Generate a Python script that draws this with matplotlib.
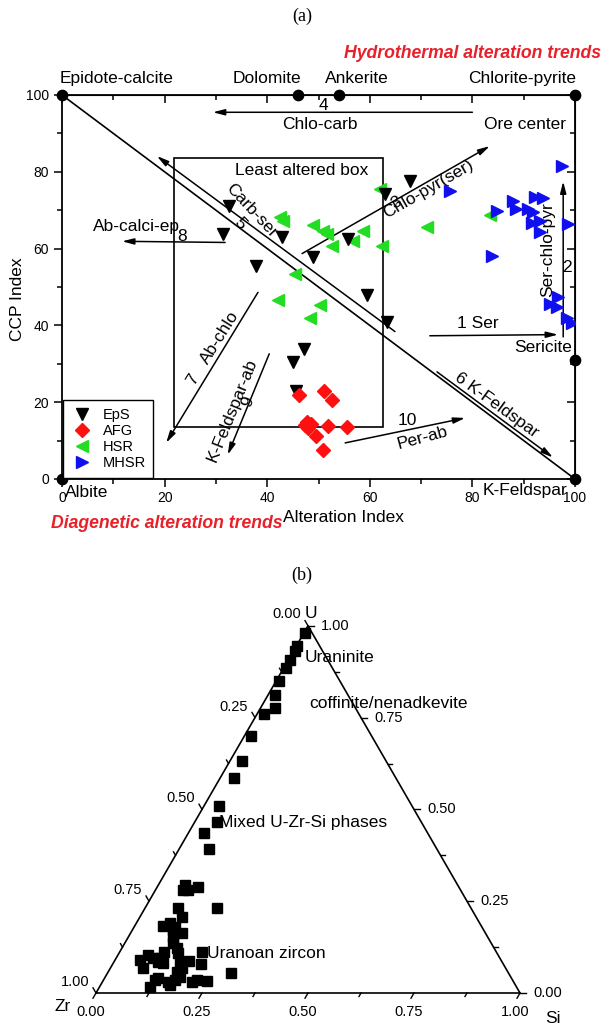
import numpy as np
import matplotlib.pyplot as plt
from matplotlib.lines import Line2D
from matplotlib.patches import Rectangle

plt.rcParams['font.family'] = ['Liberation Sans', 'DejaVu Sans']

# ---- (a) alteration box plot data ----
eps_x = [32.6, 31.4, 42.9, 37.8, 48.9, 55.8, 59.5, 63.0, 67.8, 63.4, 47.2, 45.0, 45.6]
eps_y = [71.0, 63.7, 62.9, 55.4, 57.7, 62.4, 48.0, 74.2, 77.5, 41.0, 33.9, 30.5, 23.0]

afg_x = [46.2, 51.1, 52.6, 47.8, 48.0, 48.6, 47.4, 51.9, 55.6, 49.5, 50.9]
afg_y = [21.9, 23.0, 20.6, 14.9, 13.3, 14.2, 14.0, 13.8, 13.6, 11.2, 7.6]

hsr_x = [42.5, 43.1, 48.9, 50.9, 51.6, 52.6, 56.7, 58.7, 62.4, 62.0, 45.4, 42.1, 50.3, 48.3, 71.2, 83.4]
hsr_y = [68.1, 67.1, 66.1, 64.5, 63.7, 60.6, 61.9, 64.5, 60.6, 75.5, 53.3, 46.7, 45.4, 42.0, 65.5, 68.7]

mhsr_x = [97.5, 75.6, 84.8, 87.9, 88.5, 92.2, 93.8, 90.8, 91.8, 91.6, 93.2, 93.2, 98.6, 83.8,
          95.1, 96.7, 96.5, 98.4, 99.4]
mhsr_y = [81.5, 74.9, 69.7, 72.3, 70.2, 73.4, 73.1, 70.2, 69.5, 66.6, 67.1, 64.2, 66.3, 58.0,
          45.7, 47.5, 44.9, 42.0, 40.7]

# end members on the frame
end_names = ['Epidote-calcite', 'Dolomite', 'Ankerite', 'Chlorite-pyrite', 'Sericite', 'Albite', 'K-Feldspar']
end_x = [0, 46, 54, 100, 100, 0, 100]
end_y = [100, 100, 100, 100, 31, 0, 0]

# ---- (b) U-Zr-Si ternary data (fractions) ----
u_frac = [0.981, 0.945, 0.932, 0.907, 0.885, 0.850, 0.811, 0.776, 0.760, 0.699, 0.631, 0.585, 0.508,
          0.467, 0.437, 0.393, 0.295, 0.281, 0.281, 0.290, 0.232, 0.232, 0.208, 0.183, 0.191, 0.180,
          0.172, 0.164, 0.153, 0.137, 0.123, 0.109, 0.112, 0.112, 0.087, 0.079, 0.085, 0.068, 0.057,
          0.044, 0.036, 0.030, 0.022, 0.030, 0.036, 0.033, 0.055, 0.036, 0.016, 0.041, 0.090, 0.068,
          0.104, 0.096, 0.085, 0.082, 0.096]
si_frac = [0.003, 0.002, 0.003, 0.004, 0.005, 0.007, 0.016, 0.034, 0.016, 0.016, 0.029, 0.033, 0.036,
           0.052, 0.036, 0.070, 0.062, 0.064, 0.076, 0.096, 0.169, 0.077, 0.099, 0.066, 0.079, 0.096,
           0.096, 0.121, 0.105, 0.113, 0.130, 0.139, 0.104, 0.194, 0.176, 0.208, 0.156, 0.169, 0.162,
           0.176, 0.168, 0.155, 0.164, 0.211, 0.220, 0.246, 0.291, 0.121, 0.119, 0.126, 0.059, 0.077,
           0.071, 0.086, 0.104, 0.117, 0.103]
tern_ticks = [0.0, 0.25, 0.5, 0.75, 1.0]

W, H = 604, 1026
fig = plt.figure(figsize=(W / 100, H / 100), dpi=100)

# =================== (a) ===================
ax = fig.add_axes([62 / W, 1 - 479 / H, 513 / W, 384 / H])
ax.set_xlim(0, 100)
ax.set_ylim(0, 100)
for s in ax.spines.values():
    s.set_linewidth(1.3)
ax.set_xticks([0, 20, 40, 60, 80, 100])
ax.set_yticks([0, 20, 40, 60, 80, 100])
ax.set_xticks(np.arange(10, 100, 20), minor=True)
ax.set_yticks(np.arange(10, 100, 20), minor=True)
ax.tick_params(which='major', direction='out', length=6, width=1.1, labelsize=10)
ax.tick_params(which='minor', direction='out', length=3.5, width=1.1)
ax.tick_params(axis='x', pad=3)

top = ax.secondary_xaxis('top')
top.set_xticks([0, 20, 40, 60, 80, 100])
top.set_xticks(np.arange(10, 100, 20), minor=True)
top.tick_params(which='both', direction='in', labeltop=False, width=1.1)
top.tick_params(which='major', length=6)
top.tick_params(which='minor', length=3.5)
right = ax.secondary_yaxis('right')
right.set_yticks([0, 20, 40, 60, 80, 100])
right.set_yticks(np.arange(10, 100, 20), minor=True)
right.tick_params(which='both', direction='in', labelright=False, width=1.1)
right.tick_params(which='major', length=6)
right.tick_params(which='minor', length=3.5)

# diagonal Epidote-calcite -> K-feldspar
ax.plot([0, 100], [100, 0], color='k', lw=1.2, zorder=2)
# least altered box
ax.add_patch(Rectangle((21.8, 13.6), 40.8, 69.9, fill=False, ec='k', lw=1.2, zorder=2))
ax.text(46.8, 80.4, 'Least altered box', ha='center', va='center', fontsize=12.5)

hstyle = dict(arrowstyle='-|>,head_length=0.7,head_width=0.18', color='k', lw=1.1,
              shrinkA=0, shrinkB=0)

def trend(tail, head):
    ax.annotate('', xy=head, xytext=tail, arrowprops=hstyle, zorder=2)

trend((71.7, 37.3), (96.7, 37.6))      # 1 Ser
trend((97.7, 37.0), (97.7, 77.5))      # 2 Ser-chlo-pyr
trend((46.8, 58.7), (83.4, 86.7))      # 3 Chlo-pyr(ser)
trend((80.0, 95.5), (29.4, 95.5))      # 4 Chlo-carb
trend((64.9, 38.4), (18.5, 84.1))      # 5 Carb-ser
trend((73.1, 27.9), (95.7, 5.6))       # 6 K-Feldspar
trend((38.2, 48.6), (20.3, 9.4))       # 7 Ab-chlo
trend((31.8, 61.6), (11.7, 61.9))      # 8 Ab-calci-ep
trend((40.4, 32.6), (32.3, 6.3))       # 9 K-Feldspar-ab
trend((55.2, 9.4), (78.6, 15.9))       # 10 Per-ab

fs = 12.5
ax.text(81.1, 40.6, '1 Ser', ha='center', va='center', fontsize=fs)
ax.text(93.8, 34.2, 'Sericite', ha='center', va='center', fontsize=fs)
ax.text(94.7, 59.8, 'Ser-chlo-pyr', ha='center', va='center', fontsize=fs, rotation=90)
ax.text(98.4, 55.1, '2', ha='center', va='center', fontsize=fs)
ax.text(71.5, 75.5, 'Chlo-pyr(ser)', ha='center', va='center', fontsize=fs, rotation=30)
ax.text(65.2, 72.0, '3', ha='center', va='center', fontsize=fs, rotation=30)
ax.text(50.9, 97.2, '4', ha='center', va='center', fontsize=fs)
ax.text(50.3, 92.2, 'Chlo-carb', ha='center', va='center', fontsize=fs)
ax.text(90.3, 92.4, 'Ore center', ha='center', va='center', fontsize=fs)
ax.text(37.0, 69.8, 'Carb-ser', ha='center', va='center', fontsize=fs, rotation=-47)
ax.text(34.7, 66.6, '5', ha='center', va='center', fontsize=fs, rotation=-47)
ax.text(84.8, 19.3, '6 K-Feldspar', ha='center', va='center', fontsize=fs, rotation=-36)
ax.text(30.8, 36.8, 'Ab-chlo', ha='center', va='center', fontsize=fs, rotation=58)
ax.text(25.6, 25.8, '7', ha='center', va='center', fontsize=fs, rotation=58)
ax.text(14.5, 65.8, 'Ab-calci-ep', ha='center', va='center', fontsize=fs)
ax.text(23.4, 63.2, '8', ha='center', va='center', fontsize=fs)
ax.text(33.1, 18.0, 'K-Feldspar-ab', ha='center', va='center', fontsize=fs, rotation=68)
ax.text(36.3, 20.1, '9', ha='center', va='center', fontsize=fs, rotation=68)
ax.text(67.3, 15.3, '10', ha='center', va='center', fontsize=fs)
ax.text(70.2, 10.6, 'Per-ab', ha='center', va='center', fontsize=fs, rotation=15)

# end-member dots and labels
ax.scatter(end_x, end_y, s=55, color='k', zorder=6, clip_on=False)
ax.text(10.7, 104.4, end_names[0], ha='center', va='center', fontsize=fs)
ax.text(40.0, 104.4, end_names[1], ha='center', va='center', fontsize=fs)
ax.text(57.5, 104.4, end_names[2], ha='center', va='center', fontsize=fs)
ax.text(89.7, 104.4, end_names[3], ha='center', va='center', fontsize=fs)
ax.text(4.9, -3.4, end_names[5], ha='center', va='center', fontsize=fs)
ax.text(90.3, -2.9, end_names[6], ha='center', va='center', fontsize=fs)

# samples
ms = 8.5
ax.plot(hsr_x, hsr_y, '<', color='#22dd22', ms=ms, ls='none', zorder=3)
ax.plot(eps_x, eps_y, 'v', color='k', ms=ms, ls='none', zorder=4)
ax.plot(afg_x, afg_y, 'D', color='#ff1010', ms=ms - 1.5, ls='none', zorder=4)
ax.plot(mhsr_x, mhsr_y, '>', color='#1010ee', ms=ms, ls='none', zorder=5)

handles = [Line2D([], [], marker='v', color='k', ls='none', ms=ms),
           Line2D([], [], marker='D', color='#ff1010', ls='none', ms=ms - 1.5),
           Line2D([], [], marker='<', color='#22dd22', ls='none', ms=ms),
           Line2D([], [], marker='>', color='#1010ee', ls='none', ms=ms)]
leg = ax.legend(handles, ['EpS', 'AFG', 'HSR', 'MHSR'], loc='lower left', bbox_to_anchor=(0, 0),
                borderaxespad=0.1, fontsize=10.5, frameon=True, fancybox=False, framealpha=1,
                edgecolor='k', labelspacing=0.15, handlelength=1.6, handletextpad=0.6,
                borderpad=0.5)
leg.get_frame().set_linewidth(1.0)
leg.set_zorder(7)

ax.text(54.8, -9.9, 'Alteration Index', ha='center', va='center', fontsize=fs)
ax.text(-8.6, 46.7, 'CCP Index', ha='center', va='center', fontsize=fs, rotation=90)
ax.text(105.0, 110.7, 'Hydrothermal alteration trends', ha='right', va='center', fontsize=12.7,
        color='#e8202a', fontweight='bold', fontstyle='italic')
ax.text(20.5, -11.5, 'Diagenetic alteration trends', ha='center', va='center', fontsize=12.7,
        color='#e8202a', fontweight='bold', fontstyle='italic')

fig.text(302 / W, 1 - 16 / H, '(a)', ha='center', va='center', fontsize=13, family='Liberation Serif')
fig.text(302 / W, 1 - 575 / H, '(b)', ha='center', va='center', fontsize=13, family='Liberation Serif')

# =================== (b) ternary ===================
r3 = np.sqrt(3) / 2
tx = fig.add_axes([96 / W, 1 - 993 / H, 424 / W, 424 * r3 / H])
tx.set_xlim(0, 1)
tx.set_ylim(0, r3)
tx.axis('off')
px = 1 / 424

def to_xy(si, u):
    si = np.asarray(si)
    u = np.asarray(u)
    return si + u / 2, u * r3

tx.plot([0, 1, 0.5, 0], [0, 0, r3, 0], color='k', lw=1.2, clip_on=False)

for k in range(9):
    f = k / 8
    ln = (6 if k % 2 == 0 else 4) * px
    # bottom edge: Si fraction
    x0, y0 = to_xy(f, 0)
    tx.plot([x0, x0 - 0.5 * ln], [y0, y0 - r3 * ln], color='k', lw=1.0, clip_on=False)
    # left edge: Zr fraction
    x0, y0 = to_xy(0, 1 - f)
    tx.plot([x0, x0 - 0.5 * ln], [y0, y0 + r3 * ln], color='k', lw=1.0, clip_on=False)
    # right edge: U fraction
    x0, y0 = to_xy(1 - f, f)
    tx.plot([x0, x0 + ln], [y0, y0], color='k', lw=1.0, clip_on=False)

tfs = 10.5
for f in tern_ticks:
    x0, y0 = to_xy(f, 0)
    tx.text(x0 - 5 * px, y0 - 19 * px, f'{f:.2f}', ha='center', va='center', fontsize=tfs)
    x0, y0 = to_xy(1 - f, f)
    tx.text(x0 + 13 * px, y0, f'{f:.2f}', ha='left', va='center', fontsize=tfs)
    if f > 0:
        x0, y0 = to_xy(0, 1 - f)
        tx.text(x0 - 7 * px, y0 + 11 * px, f'{f:.2f}', ha='right', va='center', fontsize=tfs)
tx.text(0.483, 0.894, '0.00', ha='right', va='center', fontsize=tfs)
tx.text(0.493, 0.896, 'U', ha='left', va='center', fontsize=12.5)
tx.text(-0.078, -0.031, 'Zr', ha='center', va='center', fontsize=12.5)
tx.text(1.078, -0.059, 'Si', ha='center', va='center', fontsize=12.5)

sx, sy = to_xy(si_frac, u_frac)
tx.plot(sx, sy, 's', color='k', ms=7, ls='none', clip_on=False)

tx.text(0.493, 0.792, 'Uraninite', ha='left', va='center', fontsize=12.5)
tx.text(0.502, 0.682, 'coffinite/nenadkevite', ha='left', va='center', fontsize=12.5)
tx.text(0.290, 0.401, 'Mixed U-Zr-Si phases', ha='left', va='center', fontsize=12.5)
tx.text(0.262, 0.094, 'Uranoan zircon', ha='left', va='center', fontsize=12.5)

fig.savefig('out.png', dpi=100)
